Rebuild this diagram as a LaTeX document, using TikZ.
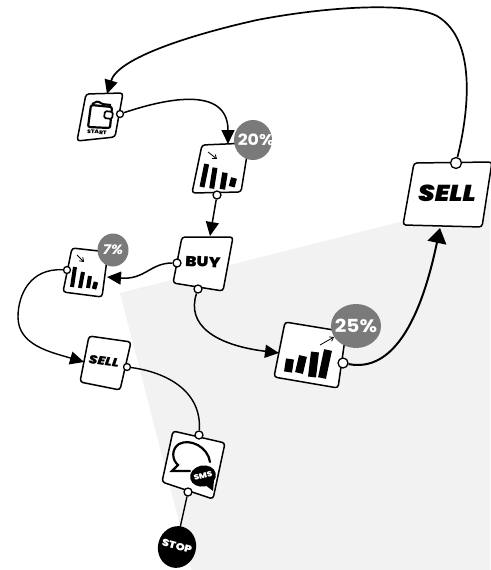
\documentclass[tikz,border=0pt]{standalone}
\usepackage{fontspec}
\setmainfont{Poppins}
\newfontfamily\heavy[FakeStretch=1.14]{Poppins Black}
\newfontfamily\heavyb[FakeStretch=1.12]{Poppins}
\usetikzlibrary{arrows.meta}
\definecolor{panel}{HTML}{F2F2F2}
\definecolor{badge}{HTML}{7A7A7A}
\tikzset{
  boxst/.style={draw=black,line width=1.5pt,fill=white,rounded corners=3pt,line join=round},
  port/.style={circle,draw=black,fill=white,line width=1.3pt,inner sep=0pt,minimum size=#1},
  conn/.style={draw=black,line width=#1,-{Triangle[length=14pt,width=13pt]}},
  connb/.style={draw=black,line width=#1,-{Triangle[length=15pt,width=19pt]}},
  plain/.style={draw=black,line width=#1},
  bar/.style={draw=black,line width=#1},
  thinarrow/.style={draw=black,line width=.8pt,-{Straight Barb[length=3.5pt,width=5pt]}},
  lab/.style={inner sep=0pt,font=\heavy,text=black},
  blab/.style={inner sep=0pt,font=\heavyb\bfseries,text=white}
}
\begin{document}
\begin{tikzpicture}[x=1pt,y=-1pt]
\useasboundingbox (0,0) rectangle (490,570);
\fill[panel] (120,293) -- (490,199) -- (490,570) -- (191.5,570) -- cycle;
% boxes
\draw[boxst] (86,94) -- (123,93) -- (115,137) -- (77,141) -- cycle;
\draw[boxst] (202,145) -- (249,143) -- (241,192) -- (192,193) -- cycle;
\draw[boxst] (182,237) -- (233,237) -- (223,291) -- (173,283) -- cycle;
\draw[boxst] (72,248) -- (108,252) -- (102,297) -- (63,292) -- cycle;
\draw[boxst] (89,336) -- (131,342) -- (120,390) -- (80,382) -- cycle;
\draw[boxst] (173,431) -- (225,443) -- (213,499) -- (162,482) -- cycle;
\draw[boxst] (285,322) -- (346,332) -- (338,388) -- (274,377) -- cycle;
\draw[boxst] (414,163) -- (492,162) -- (482,227) -- (403,225) -- cycle;
% wallet icon
\draw[black,line width=2.2pt,rounded corners=2pt] (91,105) -- (112,107) -- (110,128) -- (88,127) -- cycle;
\draw[black,line width=2pt,rounded corners=1.5pt] (92,104) -- (98,101) -- (102,104) -- (111,105);
\draw[black,fill=white,line width=1.7pt,rounded corners=1.5pt] (105,111) -- (113,112) -- (112,119) -- (104,118) -- cycle;
\node[lab,font=\heavy\fontsize{5.2}{6}\selectfont,rotate=-4] (tstart) at (97,132) {START};
% bars 20
\draw[bar=5pt] (206.7,164) -- (202,187);
\draw[bar=5pt] (215,167.7) -- (211.7,188.5);
\draw[bar=5.5pt] (225,172.7) -- (222.3,189.3);
\draw[bar=6pt] (234,178) -- (231.7,186.7);
\draw[thinarrow] (208,152) -- (217,159);
% bars 7
\draw[bar=4pt] (75,267) -- (72,287);
\draw[bar=4pt] (83,272) -- (80,288);
\draw[bar=4pt] (90,276) -- (88,288);
\draw[bar=4.5pt] (96,282) -- (94,289);
\draw[thinarrow] (77,255) -- (84,262);
% bars 25
\draw[bar=8pt] (290,359) -- (288,372);
\draw[bar=8pt] (303,356) -- (299,373);
\draw[bar=8pt] (315,352) -- (312,377);
\draw[bar=8pt] (328,350) -- (322,378);
\draw[thinarrow] (320,345) -- (334,337);
% SMS icon
\draw[black,line width=2.2pt,line cap=round] (210,462) .. controls (208,447) and (190,438) .. (179,444) .. controls (171,449) and (172,460) .. (178,465) -- (172,471) -- (190,471);
\fill[black,rotate around={12:(203,476)}] (203,476) ellipse (13pt and 10.5pt);
\fill[black] (204,484) -- (213,491) -- (214,480) -- cycle;
\node[blab,font=\heavy\fontsize{7.5}{8}\selectfont,rotate=14] (tsms) at (203,476) {SMS};
% labels
\node[lab,font=\heavy\fontsize{14.5}{16}\selectfont,rotate=-3] (tbuy) at (203,262) {BUY};
\node[lab,font=\heavy\itshape\fontsize{12}{13}\selectfont,rotate=-8] (tsell) at (104,361) {SELL};
\node[lab,font=\heavy\itshape\fontsize{23}{24}\selectfont] (tsellb) at (447,193) {SELL};
% badges
\fill[badge] (253,140) ellipse (19pt and 20pt);
\node[blab,font=\heavyb\bfseries\fontsize{15.5}{16}\selectfont] (b20) at (256,140) {20\%};
\fill[badge] (113,250) ellipse (15.5pt and 16.5pt);
\node[blab,font=\heavyb\bfseries\itshape\fontsize{13.5}{14}\selectfont] (b7) at (113,250) {7\%};
\fill[badge] (356,326) ellipse (25pt and 22pt);
\node[blab,font=\heavyb\bfseries\fontsize{18}{19}\selectfont] (b25) at (356,326) {25\%};
% stop
\fill[black,rotate around={-15:(177,547)}] (177,547) ellipse (19pt and 21pt);
\node[blab,font=\heavy\fontsize{10}{11}\selectfont,rotate=-15] (tstop) at (177,546) {STOP};
\coordinate (stoptop) at (180,528);
% ports
\node[port=7pt] (pstart) at (120,114) {};
\node[port=8pt] (p20) at (217,195) {};
\node[port=8pt] (pbuyl) at (177,263) {};
\node[port=8pt] (pbuyb) at (198,289) {};
\node[port=7pt] (p7) at (67,270) {};
\node[port=7pt] (psell) at (127,367) {};
\node[port=8pt] (psmst) at (199,435) {};
\node[port=8pt] (psmsb) at (188,492) {};
\node[port=10pt] (p25) at (343,363) {};
\node[port=11pt] (psellb) at (456,163) {};
% tips
\coordinate (t20) at (228,144);
\coordinate (tbuytop) at (210,236);
\coordinate (t7) at (107,277);
\coordinate (tsmall) at (84,362);
\coordinate (t25) at (279,353);
\coordinate (tbig) at (440,228);
\coordinate (tstartin) at (107,94);
% connectors
\draw[conn=1.5pt] (pstart) .. controls (150,104) and (228,80) .. (t20);
\draw[conn=1.5pt] (p20) -- (tbuytop);
\draw[conn=1.5pt] (pbuyl) .. controls (150,263) and (145,280) .. (t7);
\draw[conn=1.4pt] (p7) .. controls (30,268) and (18,295) .. (18,317) .. controls (18,345) and (50,352) .. (tsmall);
\draw[conn=1.5pt] (pbuyb) .. controls (186,325) and (215,345) .. (t25);
\draw[connb=2pt] (p25) .. controls (405,375) and (428,285) .. (tbig);
\draw[conn=1.7pt] (psellb) .. controls (468,115) and (478,40) .. (437,16) .. controls (410,2) and (330,6) .. (257,20) .. controls (190,35) and (118,58) .. (tstartin);
\draw[plain=1.4pt] (psell) .. controls (165,372) and (202,390) .. (psmst);
\draw[plain=1.4pt] (psmsb) -- (stoptop);
\end{tikzpicture}
\end{document}
